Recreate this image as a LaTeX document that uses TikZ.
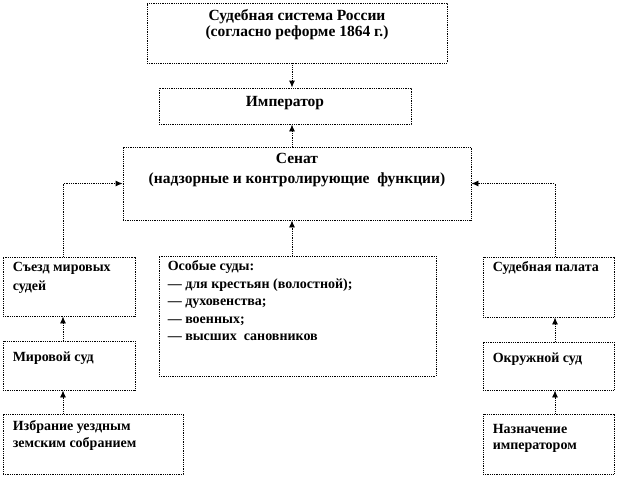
\documentclass[tikz,border=0pt]{standalone}
\usepackage{fontspec}
\setmainfont{Liberation Serif}
\usetikzlibrary{arrows.meta,positioning,calc}

\begin{document}
\begin{tikzpicture}[
  x=1pt, y=-1pt,
  blk/.style={draw=black, dash pattern=on 1pt off 0.8pt, line width=0.9pt, inner sep=0pt},
  arr/.style={dash pattern=on 1pt off 0.8pt, line width=0.9pt, -{Latex[length=7pt,width=6pt]}},
  hdlbl/.style={font=\bfseries\fontsize{15.5}{20}\selectfont, align=center, inner sep=0pt},
  lbl/.style={font=\bfseries\fontsize{14}{17.5}\selectfont, align=left, inner sep=0pt},
]
\useasboundingbox (0,0) rectangle (618,477);

%% ---- верхние блоки ----
\node[blk, minimum width=300pt, minimum height=60pt] (sys) at (297,33) {};
\node[hdlbl, below=7pt of sys.north, font=\bfseries\fontsize{15.5}{16}\selectfont]
  {Судебная система России\\(согласно реформе 1864 г.)};

\node[blk, minimum width=252pt, minimum height=36pt] (imp) at (285,106) {};
\node[hdlbl] at ([yshift=3pt]imp.center) {Император};

\node[blk, minimum width=348pt, minimum height=73pt] (senat) at (297,183.5) {};
\node[hdlbl, below=6pt of senat.north]
  {Сенат\\(надзорные и контролирующие \ функции)};

%% ---- левая ветвь (мировые суды) ----
\node[blk, minimum width=132pt, minimum height=59pt] (sjezd) at (69,286.5) {};
\node[lbl, below right=5pt and 10pt of sjezd.north west, font=\bfseries\fontsize{14}{19}\selectfont]
  {Съезд мировых\\судей};

\node[blk, minimum width=132pt, minimum height=49pt] (mir) at (69,365.5) {};
\node[lbl, below right=11pt and 10pt of mir.north west] {Мировой суд};

\node[blk, minimum width=180pt, minimum height=60pt] (izbr) at (93,444) {};
\node[lbl, below right=7pt and 10pt of izbr.north west, font=\bfseries\fontsize{14}{16.5}\selectfont]
  {Избрание уездным\\земским собранием};

%% ---- особые суды ----
\node[blk, minimum width=277pt, minimum height=120pt] (osob) at (297.5,316) {};
\node[lbl, below right=5pt and 9pt of osob.north west]
  {Особые суды:\\— для крестьян (волостной);\\— духовенства;\\— военных;\\— высших \ сановников};

%% ---- правая ветвь (общие суды) ----
\node[blk, minimum width=131pt, minimum height=60pt] (palata) at (548.5,287) {};
\node[lbl, below right=5pt and 10pt of palata.north west] {Судебная палата};

\node[blk, minimum width=131pt, minimum height=48pt] (okr) at (548.5,366) {};
\node[lbl, below right=11pt and 10pt of okr.north west] {Окружной суд};

\node[blk, minimum width=131pt, minimum height=60pt] (naz) at (548.5,444) {};
\node[lbl, below right=11pt and 10pt of naz.north west, font=\bfseries\fontsize{14}{16}\selectfont]
  {Назначение\\императором};

%% ---- связи ----
\coordinate (ccol) at ([xshift=-5pt]senat.north);
\coordinate (lcol) at ([xshift=-6pt]mir.south);
\coordinate (rcol) at ([xshift=6.5pt]okr.south);

\draw[arr] (sys.south -| ccol) -- (imp.north -| ccol);
\draw[arr] (ccol) -- (imp.south -| ccol);
\draw[arr] (osob.north -| ccol) -- (senat.south -| ccol);

\draw[arr] (sjezd.north -| lcol) |- (senat.west);
\draw[arr] (mir.north -| lcol) -- (sjezd.south -| lcol);
\draw[arr] (izbr.north -| lcol) -- (lcol);

\draw[arr] (palata.north -| rcol) |- (senat.east);
\draw[arr] (okr.north -| rcol) -- (palata.south -| rcol);
\draw[arr] (naz.north -| rcol) -- (rcol);

\end{tikzpicture}
\end{document}
